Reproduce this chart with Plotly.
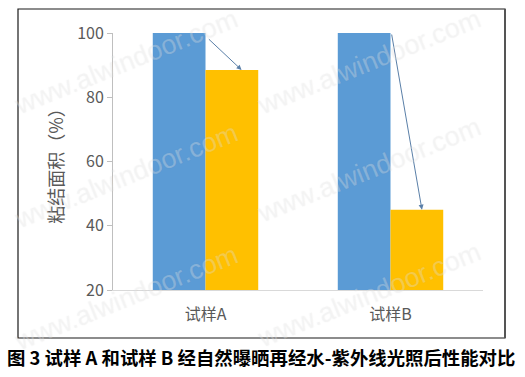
import plotly.graph_objects as go

categories = ["试样A", "试样B"]
before_values = [100, 100]
after_values = [88.5, 45]
y_ticks = [20, 40, 60, 80, 100]
y_title = "粘结面积（%）"
caption = "图 3 试样 A 和试样 B 经自然曝晒再经水-紫外线光照后性能对比"
watermark = "www.alwindoor.com"

W, H = 525, 377
L, R, T, B = 113, 42, 33, 87
pw, ph = W - L - R, H - T - B

def px(x):
    return (x - L) / pw

def py(y):
    return (H - B - y) / ph

fig = go.Figure()
fig.add_trace(go.Bar(x=categories, y=before_values, marker=dict(color="#5B9BD5", line=dict(width=0)), name="前"))
fig.add_trace(go.Bar(x=categories, y=after_values, marker=dict(color="#FFC000", line=dict(width=0)), name="后"))

font_main = "Noto Sans CJK SC, Noto Sans, sans-serif"

# arrows from blue bar top to yellow bar top
arrow_offsets = [(0.01, 0.195), (0.005, 0.17)]
for i, (b, a) in enumerate(zip(before_values, after_values)):
    so, eo = arrow_offsets[i]
    start_y = b - (1.5 if i == 0 else 0)
    fig.add_annotation(x=i + eo, y=a, ax=i + so, ay=start_y, xref="x", yref="y",
                       axref="x", ayref="y", text="", showarrow=True,
                       arrowhead=2, arrowsize=1, arrowwidth=1, arrowcolor="#5A7FA8")

# watermark tiles (outlined look via text shadow)
wm_centers = [(126, 62), (369, 62),
              (126, 176), (369, 170),
              (126, 298), (369, 295)]
for cx, cy in wm_centers:
    fig.add_annotation(x=px(cx), y=py(cy), xref="paper", yref="paper", text=watermark,
                       showarrow=False, textangle=-22, xanchor="center", yanchor="middle",
                       font=dict(family="Liberation Sans, Arial", size=27,
                                 color="rgba(255,255,255,0.25)",
                                 shadow="0px 0px 1px rgba(140,140,140,0.55)"))

fig.add_annotation(x=px(261), y=py(357), xref="paper", yref="paper", text="<b>" + caption + "</b>",
                   showarrow=False, xanchor="center", yanchor="middle",
                   font=dict(family=font_main, size=18.4, color="#000000"))

# border
fig.add_shape(type="rect", xref="paper", yref="paper", x0=px(18), x1=px(505), y0=py(338), y1=py(9),
              line=dict(color="#1a1a1a", width=1.2), layer="above")
fig.add_shape(type="line", xref="paper", yref="paper", x0=px(505), x1=px(505), y0=py(338), y1=py(9),
              line=dict(color="#555555", width=2), layer="above")

fig.update_layout(
    width=W, height=H, margin=dict(l=L, r=R, t=T, b=B),
    paper_bgcolor="white", plot_bgcolor="white", showlegend=False,
    bargap=0.43, bargroupgap=0, barmode="group",
    font=dict(family=font_main, color="#595959"),
)
fig.update_xaxes(range=[-0.5, 1.5], showline=True, linecolor="#D9D9D9", linewidth=1,
                 ticks="", ticklabelstandoff=10, tickfont=dict(size=16, color="#595959"),
                 showgrid=False, zeroline=False)
fig.update_yaxes(range=[20, 100], tickvals=y_ticks, showline=True, linecolor="#BFBFBF", linewidth=1,
                 ticks="outside", ticklen=5, tickcolor="#BFBFBF", tickfont=dict(size=16, color="#595959"),
                 showgrid=False, zeroline=False,
                 title=dict(text=y_title, font=dict(size=18, color="#595959"), standoff=8))

fig.write_html("out.html")
